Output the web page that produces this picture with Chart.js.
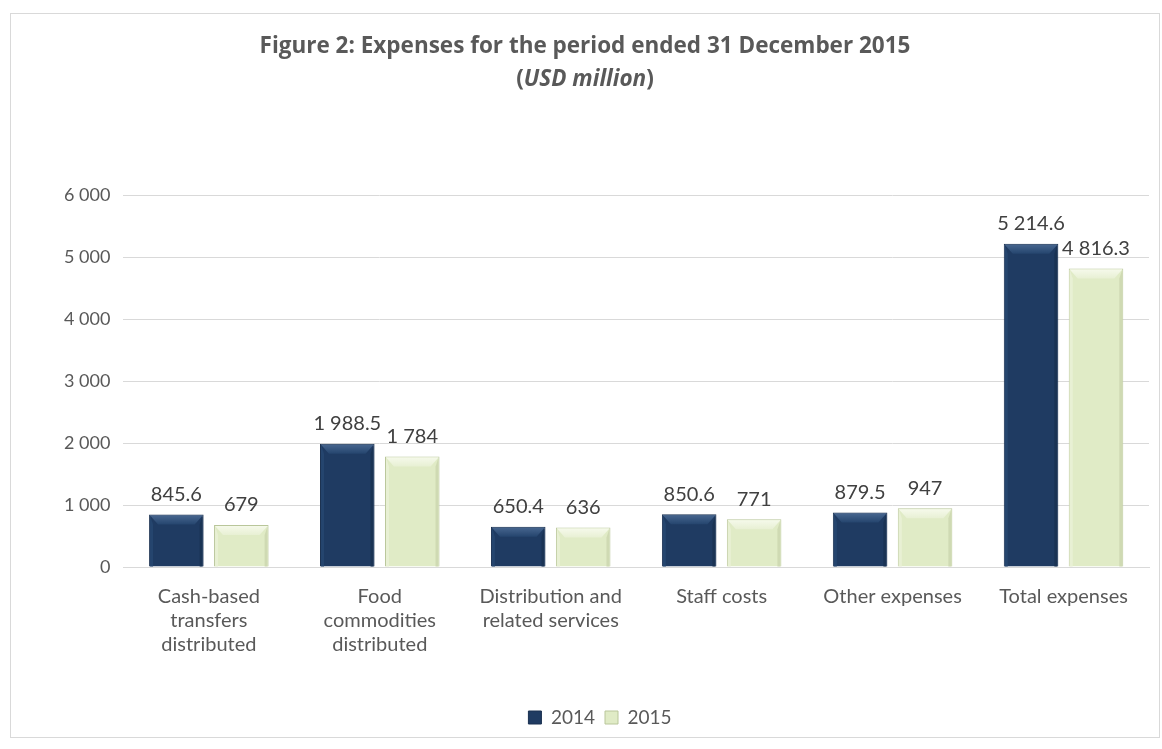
<!DOCTYPE html>
<html>
<head>
<meta charset="utf-8">
<script src="https://cdn.jsdelivr.net/npm/chart.js@4/dist/chart.umd.min.js"></script>
<style>
  body { margin: 0; background: #fff; }
  #box { position: absolute; left: 10px; top: 13px; width: 1148px; height: 723px; border: 1px solid #d9d9d9; }
  #title { position: absolute; left: 0; top: 14px; width: 100%; text-align: center; font-family: "Open Sans", sans-serif;
           font-weight: bold; font-size: 22.5px; line-height: 33px; color: #595959; }
  canvas { position: absolute; left: 0; top: 0; }
</style>
</head>
<body>
<div id="box">
  <canvas id="barChart" width="1148" height="723"></canvas>
  <div id="title">Figure 2: Expenses for the period ended 31 December 2015<br>(<i>USD million</i>)</div>
</div>
<script>
const categories = [
    ['Cash-based', 'transfers', 'distributed'],
    ['Food', 'commodities', 'distributed'],
    ['Distribution and', 'related services'],
    'Staff costs',
    'Other expenses',
    'Total expenses'
];
const values2014 = [845.6, 1988.5, 650.4, 850.6, 879.5, 5214.6];
const values2015 = [679, 1784, 636, 771, 947, 4816.3];
const seriesNames = ['2014', '2015'];

const fmt = v => {
    const parts = String(v).split('.');
    parts[0] = parts[0].replace(/\B(?=(\d{3})+(?!\d))/g, ' ');
    return parts.join('.');
};

// bevel look of the office bars
const bevelColors = [
    { top: '#46658e', side: '#25456e', bottom: '#1a3354' },
    { top: '#f5f9ea', side: '#e8f0d4', bottom: '#cfdab3' }
];
const bevel = {
    id: 'bevel',
    afterDatasetsDraw(chart) {
        const ctx = chart.ctx;
        chart.data.datasets.forEach((ds, i) => {
            const c = bevelColors[i];
            chart.getDatasetMeta(i).data.forEach(bar => {
                const l = bar.x - bar.width / 2 + 1, r = bar.x + bar.width / 2 - 1;
                const t = bar.y + 1, b = bar.base;
                const d = Math.min(9, (b - t) / 3);
                ctx.save();
                ctx.fillStyle = c.side;
                ctx.beginPath();
                ctx.moveTo(l, t); ctx.lineTo(l + 3, t + d); ctx.lineTo(l + 3, b); ctx.lineTo(l, b);
                ctx.closePath(); ctx.fill();
                ctx.fillStyle = c.bottom;
                ctx.beginPath();
                ctx.moveTo(r, t); ctx.lineTo(r - 3, t + d); ctx.lineTo(r - 3, b); ctx.lineTo(r, b);
                ctx.closePath(); ctx.fill();
                const g = ctx.createLinearGradient(0, t, 0, t + d);
                g.addColorStop(0, c.top);
                g.addColorStop(1, c.side);
                ctx.fillStyle = g;
                ctx.beginPath();
                ctx.moveTo(l, t); ctx.lineTo(r, t); ctx.lineTo(r - 8, t + d); ctx.lineTo(l + 8, t + d);
                ctx.closePath(); ctx.fill();
                ctx.restore();
            });
        });
    }
};

const valueLabels = {
    id: 'valueLabels',
    afterDatasetsDraw(chart) {
        const ctx = chart.ctx;
        ctx.save();
        ctx.font = '20px Lato, sans-serif';
        ctx.fillStyle = '#404040';
        ctx.textAlign = 'center';
        ctx.textBaseline = 'bottom';
        chart.data.datasets.forEach((ds, i) => {
            chart.getDatasetMeta(i).data.forEach((bar, j) => {
                ctx.fillText(fmt(ds.data[j]), bar.x, bar.y - 10);
            });
        });
        ctx.restore();
    }
};

const ctx1 = document.getElementById('barChart').getContext('2d');
const barChart = new Chart(ctx1, {
    type: 'bar',
    plugins: [bevel, valueLabels],
    data: {
        labels: categories,
        datasets: [
        {
            label: seriesNames[0],
            data: values2014,
            backgroundColor: '#1f3b62',
            borderColor: '#1a3050',
            borderWidth: 1
        },
        {
            label: seriesNames[1],
            data: values2015,
            backgroundColor: '#e0ebc6',
            borderColor: '#b9c69a',
            borderWidth: 1
        }]
    },
    options: {
        responsive: false,
        animation: false,
        layout: { padding: { top: 181, left: 40, right: 10, bottom: 0 } },
        datasets: { bar: { categoryPercentage: 0.76, barPercentage: 0.84 } },
        scales: {
            x: {
                grid: { display: false },
                border: { color: '#d9d9d9' },
                ticks: { color: '#595959', font: { family: 'Lato', size: 20, lineHeight: 1.2 }, maxRotation: 0, autoSkip: false, padding: 10 },
                afterFit: scale => { scale.height += 31; }
            },
            y: {
                min: 0, max: 6000,
                grid: { color: '#d9d9d9', drawTicks: false },
                border: { display: false },
                ticks: { stepSize: 1000, color: '#595959', font: { family: 'Lato', size: 18 }, padding: 13,
                         callback: v => fmt(v) }
            }
        },
        plugins: {
            legend: {
                position: 'bottom',
                labels: { color: '#595959', font: { family: 'Lato', size: 19 }, boxWidth: 13, boxHeight: 13, padding: 10 }
            },
            tooltip: { enabled: false }
        }
    }
});
</script>
</body>
</html>
